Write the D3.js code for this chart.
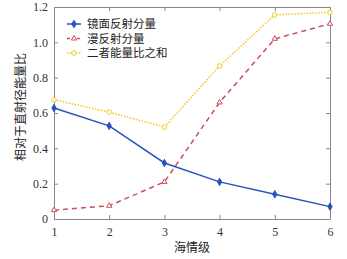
<!DOCTYPE html>
<html>
<head>
<meta charset="utf-8">
<script src="https://cdn.jsdelivr.net/npm/d3@7"></script>
<style>
  body { margin: 0; background: #fff; }
  svg { display: block; }
  .cn { font-family: "Noto Sans CJK SC", sans-serif; font-size: 12px; fill: #222; }
</style>
</head>
<body>
<div id="chart"></div>
<script>
// sea state levels
var levels = [1, 2, 3, 4, 5, 6];
var specular = [0.628, 0.527, 0.317, 0.21, 0.14, 0.07];
var diffuse = [0.05, 0.075, 0.21, 0.66, 1.02, 1.105];
var total = [0.675, 0.605, 0.52, 0.866, 1.155, 1.17];
var yTicks = [0, 0.2, 0.4, 0.6, 0.8, 1.0, 1.2];
var seriesNames = ["镜面反射分量", "漫反射分量", "二者能量比之和"];

var width = 347, height = 259,
    margin = {top: 7, right: 17, bottom: 40, left: 54};

var svg = d3.select("#chart").append("svg")
    .attr("width", width)
    .attr("height", height);

var x = d3.scaleLinear().domain([1, 6]).range([margin.left, width - margin.right]);
var y = d3.scaleLinear().domain([0, 1.2]).range([height - margin.bottom, margin.top]);

var series = [
  {name: seriesNames[0], values: specular, color: "#2a52be", dash: null, marker: "diamond", fill: true},
  {name: seriesNames[1], values: diffuse, color: "#cc4c5a", dash: "5,4", marker: "triangle", fill: false},
  {name: seriesNames[2], values: total, color: "#f2c81c", dash: "1.5,1.5", marker: "circle", fill: false}
];

// axes (box style, ticks inward)
function styleAxis(g) {
  g.select(".domain").attr("stroke", "#888");
  g.selectAll(".tick line").attr("stroke", "#888");
  g.selectAll(".tick text")
    .style("font-family", "'Liberation Serif', 'DejaVu Serif', serif")
    .style("font-size", "12px")
    .style("fill", "#333");
}

svg.append("g")
    .attr("transform", "translate(0," + y.range()[0] + ")")
    .call(d3.axisBottom(x).tickValues(levels).tickSize(-4).tickPadding(8).tickSizeOuter(0)
      .tickFormat(d3.format("d")))
    .call(styleAxis);

svg.append("g")
    .attr("transform", "translate(" + x.range()[0] + ",0)")
    .call(d3.axisLeft(y).tickValues(yTicks).tickSize(-4).tickPadding(6).tickSizeOuter(0)
      .tickFormat(function(d) { return d === 0 ? "0" : d3.format(".1f")(d); }))
    .call(styleAxis);

svg.append("g")
    .attr("transform", "translate(0," + y.range()[1] + ")")
    .call(d3.axisTop(x).tickValues(levels).tickSize(-4).tickFormat("").tickSizeOuter(0))
    .call(styleAxis);

svg.append("g")
    .attr("transform", "translate(" + x.range()[1] + ",0)")
    .call(d3.axisRight(y).tickValues(yTicks).tickSize(-4).tickFormat("").tickSizeOuter(0))
    .call(styleAxis);

var line = d3.line()
    .x(function(d, i) { return x(levels[i]); })
    .y(function(d) { return y(d); });

var symbols = {
  diamond: d3.symbol().type(d3.symbolDiamond).size(16),
  triangle: d3.symbol().type(d3.symbolTriangle).size(12),
  circle: d3.symbol().type(d3.symbolCircle).size(16)
};

series.forEach(function(s) {
  svg.append("path")
      .datum(s.values)
      .attr("fill", "none")
      .attr("stroke", s.color)
      .attr("stroke-width", 1.5)
      .attr("stroke-dasharray", s.dash)
      .attr("d", line);

  svg.selectAll(null)
      .data(s.values)
    .enter().append("path")
      .attr("transform", function(d, i) { return "translate(" + x(levels[i]) + "," + y(d) + ")"; })
      .attr("d", symbols[s.marker])
      .attr("fill", s.fill ? s.color : "#fff")
      .attr("stroke", s.color)
      .attr("stroke-width", 1);
});

// legend
var legend = svg.selectAll(".legend")
    .data(series)
  .enter().append("g")
    .attr("class", "legend")
    .attr("transform", function(d, i) { return "translate(67," + (24 + i * 14.5) + ")"; });

legend.append("line")
    .attr("x1", 0).attr("x2", 14)
    .attr("stroke", function(d) { return d.color; })
    .attr("stroke-width", 1.5)
    .attr("stroke-dasharray", function(d) { return d.dash === "5,4" ? "3,2" : d.dash; });

legend.append("path")
    .attr("transform", "translate(7,0)")
    .attr("d", function(d) { return symbols[d.marker](); })
    .attr("fill", function(d) { return d.fill ? d.color : "#fff"; })
    .attr("stroke", function(d) { return d.color; });

legend.append("text")
    .attr("class", "cn")
    .attr("x", 20)
    .attr("dy", "0.35em")
    .style("font-size", "11.5px")
    .text(function(d) { return d.name; });

// axis titles
svg.append("text")
    .attr("class", "cn")
    .attr("x", (x.range()[0] + x.range()[1]) / 2)
    .attr("y", 252)
    .attr("text-anchor", "middle")
    .text("海情级");

svg.append("text")
    .attr("class", "cn")
    .attr("transform", "translate(21,107) rotate(-90)")
    .attr("text-anchor", "middle")
    .attr("dy", "0.35em")
    .text("相对于直射径能量比");
</script>
</body>
</html>
